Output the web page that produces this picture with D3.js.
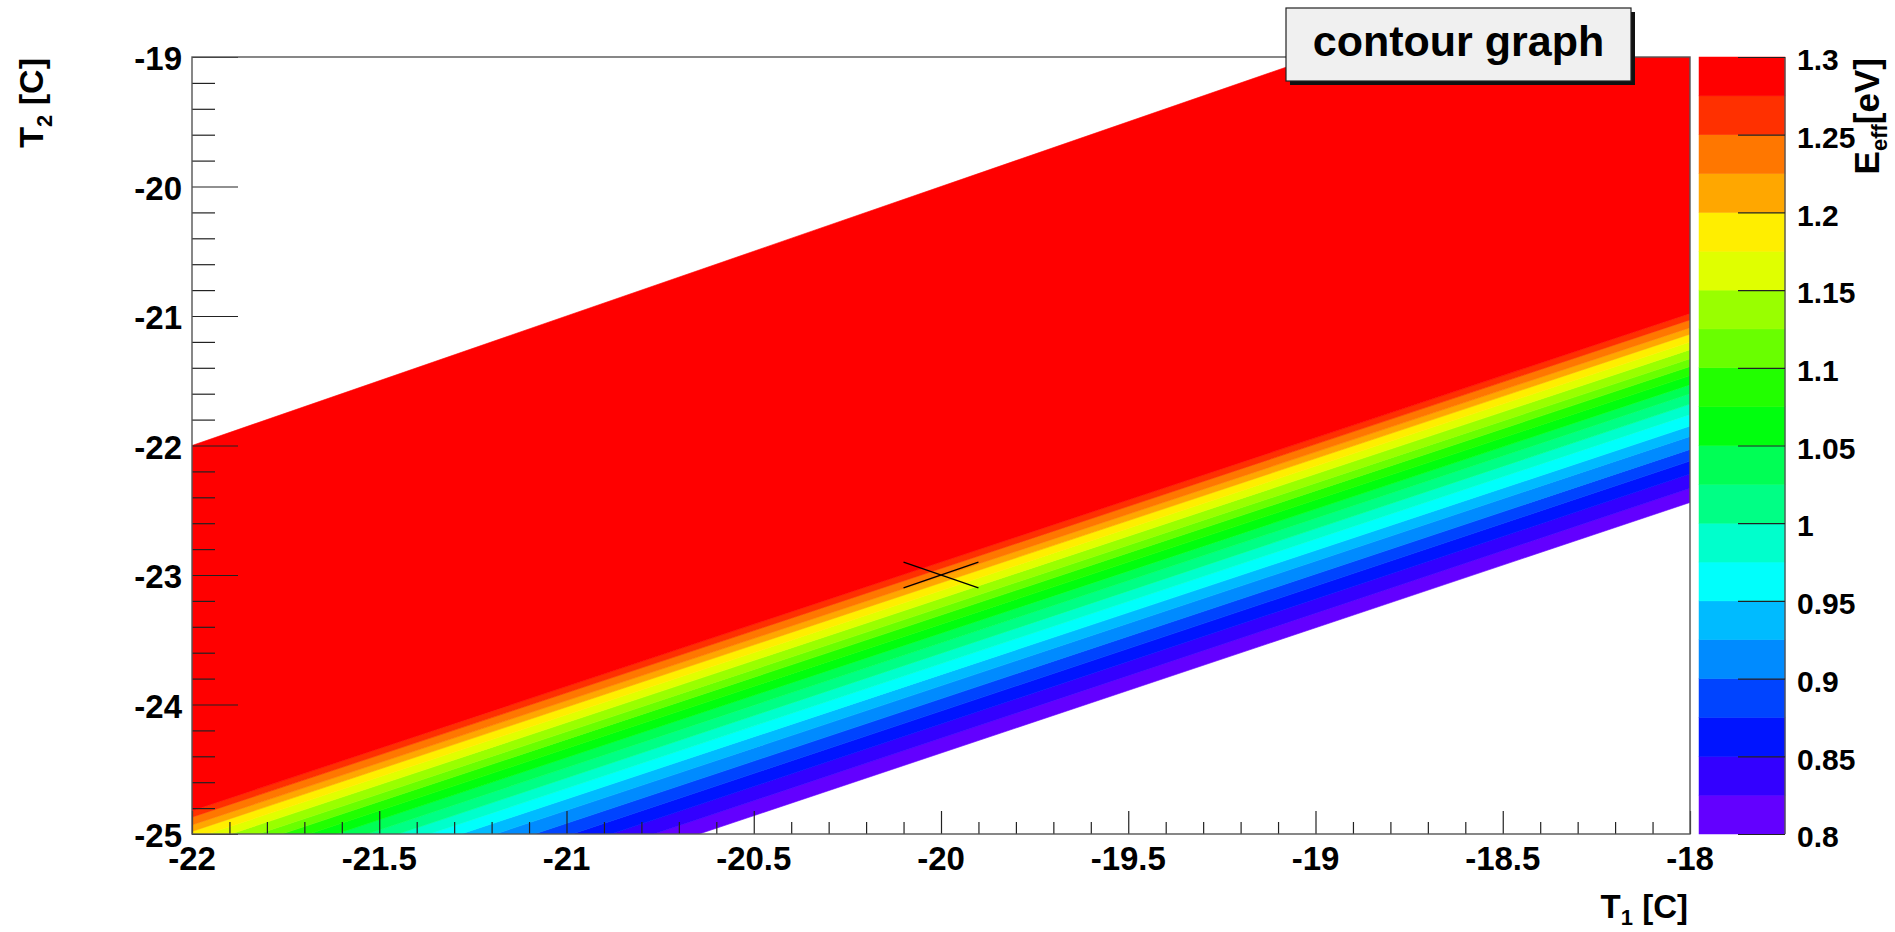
<!DOCTYPE html>
<html>
<head>
<meta charset="utf-8">
<title>contour graph</title>
<script src="https://cdn.jsdelivr.net/npm/d3@7"></script>
<style>
  html, body { margin: 0; padding: 0; background: #ffffff; }
  svg { display: block; }
  text { font-family: "Liberation Sans", Arial, Helvetica, sans-serif; font-weight: bold; fill: #000; }
</style>
</head>
<body>
<svg id="chart" width="1895" height="932"></svg>
<script>
// ---- data ---------------------------------------------------------------
// Lower edge of each E_eff colour band [eV]
const levels = [0.8, 0.825, 0.85, 0.875, 0.9, 0.925, 0.95, 0.975, 1.0, 1.025,
                1.05, 1.075, 1.1, 1.125, 1.15, 1.175, 1.2, 1.225, 1.25, 1.275];
const zMax = 1.3;

// Each iso-E_eff contour runs as a straight line across the T1 range:
// T2 [C] where it meets T1 = -22 and where it meets T1 = -18
const contourT2AtLeft  = [-26.31, -26.19, -26.08, -25.98, -25.88, -25.78, -25.69, -25.61, -25.53, -25.45,
                          -25.37, -25.30, -25.23, -25.17, -25.10, -25.04, -24.98, -24.93, -24.87, -24.82];
const contourT2AtRight = [-22.44, -22.33, -22.22, -22.12, -22.03, -21.93, -21.85, -21.76, -21.68, -21.60,
                          -21.53, -21.46, -21.39, -21.33, -21.26, -21.20, -21.14, -21.09, -21.03, -20.98];
// Upper edge of the defined region: the diagonal T2 = T1
const edgeT2AtLeft = -22, edgeT2AtRight = -18;

// Highlighted working point (T1, T2) and half-size of its cross
const pointT1 = -20, pointT2 = -23, crossHalf = 0.1;

// Axis ranges and tick values
const t1Range = [-22, -18];
const t2Range = [-25, -19];
const xMajorTicks = [-22, -21.5, -21, -20.5, -20, -19.5, -19, -18.5, -18];
const xTickLabels = ["-22", "-21.5", "-21", "-20.5", "-20", "-19.5", "-19", "-18.5", "-18"];
const yMajorTicks = [-25, -24, -23, -22, -21, -20, -19];
const yTickLabels = ["-25", "-24", "-23", "-22", "-21", "-20", "-19"];
const zMajorTicks = [0.8, 0.85, 0.9, 0.95, 1.0, 1.05, 1.1, 1.15, 1.2, 1.25, 1.3];
const zTickLabels = ["0.8", "0.85", "0.9", "0.95", "1", "1.05", "1.1", "1.15", "1.2", "1.25", "1.3"];

// Violet -> red palette, one colour per band
const bandColors = ["#6300ff", "#3300ff", "#0014ff", "#0044ff", "#008bff", "#00bbff", "#00fffc", "#00ffcc",
                    "#00ff85", "#00ff55", "#00ff0e", "#22ff00", "#69ff00", "#99ff00", "#e0ff00", "#ffee00",
                    "#ffa700", "#ff7700", "#ff3000", "#ff0000"];

// ---- layout -------------------------------------------------------------
const plot = { left: 192, right: 1690, top: 57, bottom: 834 };
const bar  = { left: 1699, right: 1785 };
const frameColor = "#555555";
const tickColor = "#222222";

const svg = d3.select("#chart");

const x = d3.scaleLinear().domain(t1Range).range([plot.left, plot.right]);
const y = d3.scaleLinear().domain(t2Range).range([plot.bottom, plot.top]);
const z = d3.scaleLinear().domain([levels[0], zMax]).range([plot.bottom, plot.top]);

// ---- filled contour bands ---------------------------------------------
svg.append("defs").append("clipPath").attr("id", "plot-clip")
  .append("rect")
  .attr("x", plot.left).attr("y", plot.top)
  .attr("width", plot.right - plot.left).attr("height", plot.bottom - plot.top);

const bands = levels.map((lv, i) => {
  const upL = i + 1 < levels.length ? contourT2AtLeft[i + 1] : edgeT2AtLeft;
  const upR = i + 1 < levels.length ? contourT2AtRight[i + 1] : edgeT2AtRight;
  return {
    level: lv,
    top: i + 1 < levels.length ? levels[i + 1] : zMax,
    color: bandColors[i],
    pts: [[t1Range[0], contourT2AtLeft[i]], [t1Range[1], contourT2AtRight[i]],
          [t1Range[1], upR], [t1Range[0], upL]]
  };
});

const line = d3.line().x(d => x(d[0])).y(d => y(d[1]));

svg.append("g").attr("clip-path", "url(#plot-clip)")
  .selectAll("path").data(bands).join("path")
  .attr("d", d => line(d.pts) + "Z")
  .attr("fill", d => d.color)
  .attr("stroke", d => d.color)
  .attr("stroke-width", 0.6);

// ---- working point cross ------------------------------------------------
const cross = svg.append("g").attr("stroke", "#000").attr("stroke-width", 1.3);
[[[-1, 1], [1, -1]], [[-1, -1], [1, 1]]].forEach(seg => {
  cross.append("line")
    .attr("x1", x(pointT1 + seg[0][0] * crossHalf)).attr("y1", y(pointT2 + seg[0][1] * crossHalf))
    .attr("x2", x(pointT1 + seg[1][0] * crossHalf)).attr("y2", y(pointT2 + seg[1][1] * crossHalf));
});

// ---- axes (ticks point into the frame) -----------------------------------
function styleAxis(g) {
  g.select(".domain").remove();
  g.selectAll(".tick line").attr("stroke", tickColor).attr("stroke-width", 1.2);
  g.selectAll(".tick text").remove();
}

const xMinor = d3.range(-21.9, -18.0, 0.1).map(v => +v.toFixed(1)).filter(v => !xMajorTicks.includes(v));
const yMinor = d3.range(-24.8, -19.0, 0.2).map(v => +v.toFixed(1)).filter(v => !yMajorTicks.includes(v));

svg.append("g").attr("transform", `translate(0,${plot.bottom})`)
  .call(d3.axisTop(x).tickValues(xMajorTicks).tickSize(23)).call(styleAxis);
svg.append("g").attr("transform", `translate(0,${plot.bottom})`)
  .call(d3.axisTop(x).tickValues(xMinor).tickSize(12)).call(styleAxis);
svg.append("g").attr("transform", `translate(${plot.left},0)`)
  .call(d3.axisRight(y).tickValues(yMajorTicks).tickSize(46)).call(styleAxis);
svg.append("g").attr("transform", `translate(${plot.left},0)`)
  .call(d3.axisRight(y).tickValues(yMinor).tickSize(23)).call(styleAxis);

// frame
svg.append("rect")
  .attr("x", plot.left).attr("y", plot.top)
  .attr("width", plot.right - plot.left).attr("height", plot.bottom - plot.top)
  .attr("fill", "none").attr("stroke", frameColor).attr("stroke-width", 1.4);

// tick labels
svg.append("g").selectAll("text").data(xMajorTicks).join("text")
  .attr("x", d => x(d)).attr("y", 870)
  .attr("text-anchor", "middle").attr("font-size", 33)
  .text((d, i) => xTickLabels[i]);

svg.append("g").selectAll("text").data(yMajorTicks).join("text")
  .attr("x", 182).attr("y", d => y(d)).attr("dy", "0.4em")
  .attr("text-anchor", "end").attr("font-size", 33)
  .text((d, i) => yTickLabels[i]);

// axis titles
const xTitle = svg.append("text")
  .attr("x", plot.right - 2).attr("y", 918)
  .attr("text-anchor", "end").attr("font-size", 33);
xTitle.append("tspan").text("T");
xTitle.append("tspan").attr("font-size", 22).attr("dy", 7).text("1");
xTitle.append("tspan").attr("dy", -7).text(" [C]");

const yTitle = svg.append("text")
  .attr("transform", `translate(43,${plot.top + 1}) rotate(-90)`)
  .attr("text-anchor", "end").attr("font-size", 34);
yTitle.append("tspan").text("T");
yTitle.append("tspan").attr("font-size", 22).attr("dy", 9).text("2");
yTitle.append("tspan").attr("dy", -9).text(" [C]");

// ---- colour bar -----------------------------------------------------------
svg.append("g").selectAll("rect").data(bands).join("rect")
  .attr("x", bar.left)
  .attr("width", bar.right - bar.left)
  .attr("y", d => z(d.top))
  .attr("height", d => z(d.level) - z(d.top))
  .attr("fill", d => d.color)
  .attr("stroke", d => d.color).attr("stroke-width", 0.5);

svg.append("line")
  .attr("x1", bar.right).attr("x2", bar.right)
  .attr("y1", plot.top).attr("y2", plot.bottom)
  .attr("stroke", frameColor).attr("stroke-width", 1.4);

svg.append("g").attr("transform", `translate(${bar.right},0)`)
  .call(d3.axisLeft(z).tickValues(zMajorTicks).tickSize(47)).call(styleAxis);

svg.append("g").selectAll("text").data(zMajorTicks).join("text")
  .attr("x", 1797).attr("y", d => z(d)).attr("dy", "0.44em")
  .attr("font-size", 30)
  .text((d, i) => zTickLabels[i]);

const zTitle = svg.append("text")
  .attr("transform", `translate(1879,${plot.top + 1}) rotate(-90)`)
  .attr("text-anchor", "end").attr("font-size", 35);
zTitle.append("tspan").text("E");
zTitle.append("tspan").attr("font-size", 22).attr("dy", 8).text("eff");
zTitle.append("tspan").attr("dy", -8).text("[eV]");

// ---- title box --------------------------------------------------------------
const box = { x: 1286, y: 8, w: 345, h: 73 };
svg.append("rect")
  .attr("x", box.x + 4).attr("y", box.y + 4).attr("width", box.w).attr("height", box.h)
  .attr("fill", "#111");
svg.append("rect")
  .attr("x", box.x).attr("y", box.y).attr("width", box.w).attr("height", box.h)
  .attr("fill", "#f0f0f0").attr("stroke", "#222").attr("stroke-width", 1.2);
svg.append("text")
  .attr("x", box.x + box.w / 2).attr("y", box.y + 48)
  .attr("text-anchor", "middle").attr("font-size", 43)
  .text("contour graph");
</script>
</body>
</html>
